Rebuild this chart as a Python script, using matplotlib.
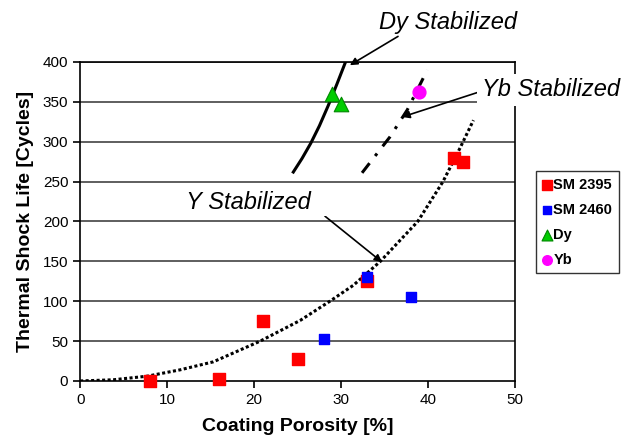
import matplotlib
matplotlib.use('Agg')
import matplotlib.pyplot as plt

plt.rcParams['font.family'] = ['Liberation Sans', 'DejaVu Sans']

# measured points
sm2395_x = [8, 16, 21, 25, 33, 43, 44]
sm2395_y = [0, 2, 75, 27, 125, 280, 275]
sm2460_x = [28, 33, 38]
sm2460_y = [53, 131, 105]
dy_x = [29, 30]
dy_y = [360, 347]
yb_x = [39]
yb_y = [362]

# trend curves
dy_fit_x = [24.5, 25.5, 26.5, 27.5, 28.5, 29.5, 30.5]
dy_fit_y = [262, 279, 298, 320, 345, 372, 400]
yb_fit_x = [32.4, 35.6, 37.6, 39.9]
yb_fit_y = [261, 306, 340, 390]
y_fit_x = [0, 3.8, 7.7, 11.5, 15.3, 20.7, 25.3, 28.7, 31.4, 34.5, 38.8, 41.7, 43.7, 45.2]
y_fit_y = [0, 1.5, 6, 14, 24, 50, 76, 100, 120, 150, 200, 250, 293, 327]

x_ticks = [0, 10, 20, 30, 40, 50]
y_ticks = [0, 50, 100, 150, 200, 250, 300, 350, 400]

fig = plt.figure(figsize=(6.26, 4.47), dpi=100)
ax = fig.add_axes([0.128, 0.1477, 0.695, 0.7136])

# horizontal grid
for yv in y_ticks[1:]:
    ax.axhline(yv, color='#333333', lw=1.1, zorder=1)

# trend lines
ax.plot(dy_fit_x, dy_fit_y, color='black', lw=2.2, zorder=3)
ax.plot(yb_fit_x, yb_fit_y, color='black', lw=2.2, linestyle=(0, (4, 3, 1, 3)), zorder=3)
ax.plot(y_fit_x, y_fit_y, color='black', lw=2.2, linestyle=(0, (1, 0.8)), zorder=3)

# data points
ax.scatter(sm2395_x, sm2395_y, marker='s', s=85, color='#ff0000', label='SM 2395', zorder=4, clip_on=False)
ax.scatter(sm2460_x, sm2460_y, marker='s', s=62, color='#0000ff', label='SM 2460', zorder=5)
ax.scatter(dy_x, dy_y, marker='^', s=110, color='#00cc00', edgecolor='#008800', lw=0.8, label='Dy', zorder=5)
ax.scatter(yb_x, yb_y, marker='o', s=85, color='#ff00ff', label='Yb', zorder=5)

# labels with arrows (white boxes hide the grid behind the text)
def arrow(relpos=(0.5, 0.5)):
    return dict(arrowstyle='-|>', color='black', lw=1.2, mutation_scale=11,
                shrinkA=0, shrinkB=0, relpos=relpos)

ax.annotate('Dy Stabilized', xy=(31, 396), xytext=(42.3, 450), fontsize=17, style='italic',
            ha='center', va='center', arrowprops=arrow((0.17, 0.0)), annotation_clip=False, zorder=6)
ax.annotate('Yb Stabilized', xy=(37, 331), xytext=(54.1, 365), fontsize=17, style='italic',
            ha='center', va='center', arrowprops=arrow((0.0, 0.45)), annotation_clip=False, zorder=6,
            bbox=dict(boxstyle='square,pad=0.2', facecolor='white', edgecolor='none'))
ax.annotate(' Y Stabilized  ', xy=(34.7, 149), xytext=(19.7, 224), fontsize=17, style='italic',
            ha='center', va='center', arrowprops=arrow((0.95, 0.2)), annotation_clip=False, zorder=6,
            bbox=dict(boxstyle='square,pad=0.1', facecolor='white', edgecolor='none'))

ax.set_xlim(0, 50)
ax.set_ylim(0, 400)
ax.set_xticks(x_ticks)
ax.set_yticks(y_ticks)
ax.tick_params(labelsize=11, length=5, width=1.2, color='black', direction='out')
for sp in ax.spines.values():
    sp.set_linewidth(1.2)
    sp.set_zorder(2)
ax.set_xlabel('Coating Porosity [%]', fontsize=14, fontweight='bold', labelpad=8)
ax.set_ylabel('Thermal Shock Life [Cycles]', fontsize=14, fontweight='bold', labelpad=6)

leg = fig.legend(loc='upper left', bbox_to_anchor=(0.856, 0.617),
                 prop={'weight': 'bold', 'size': 10.5}, frameon=True, fancybox=False,
                 edgecolor='black', handlelength=0.6, handletextpad=0.15,
                 borderpad=0.45, borderaxespad=0, labelspacing=0.75, markerscale=0.75)
leg.get_frame().set_linewidth(1.0)

fig.savefig('out.png', dpi=100)
